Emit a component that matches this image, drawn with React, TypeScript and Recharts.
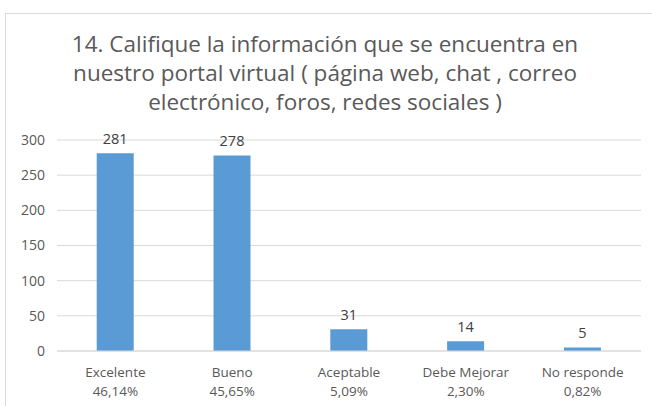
import React from "react";
import { BarChart, Bar, XAxis, YAxis, CartesianGrid, LabelList } from "recharts";

const categories = ["Excelente", "Bueno", "Aceptable", "Debe Mejorar", "No responde"];
const percents = ["46,14%", "45,65%", "5,09%", "2,30%", "0,82%"];
const counts = [281, 278, 31, 14, 5];
const yTicks = [0, 50, 100, 150, 200, 250, 300];
const titleLines = [
  "14. Califique la información que se encuentra en",
  "nuestro portal virtual ( página web, chat , correo",
  "electrónico, foros, redes sociales )",
];

const data = categories.map((c, i) => ({ name: c, pct: percents[i], value: counts[i] }));

const FONT = "'Open Sans', sans-serif";

const CategoryTick = ({ x, y, payload, index }: any) => {
  return (
    <text x={x} y={y} textAnchor="middle" fill="#595959" fontSize={13.5} fontFamily={FONT}>
      <tspan x={x} dy={18}>{payload.value}</tspan>
      <tspan x={x} dy={19}>{percents[index]}</tspan>
    </text>
  );
};

export default function App() {
  return (
    <div style={{ position: "fixed", left: 0, top: 0, width: 652, height: 406, background: "#fff", overflow: "hidden" }}>
      <div
        style={{
          position: "absolute",
          left: 5,
          top: 13,
          width: 700,
          height: 420,
          border: "1px solid #d9d9d9",
          boxSizing: "border-box",
        }}
      />
      <div
        style={{
          position: "absolute",
          left: 0,
          top: 29,
          width: 650,
          textAlign: "center",
          fontFamily: FONT,
          fontSize: 22.5,
          lineHeight: "29px",
          color: "#595959",
        }}
      >
        {titleLines.map((l) => (
          <div key={l}>{l}</div>
        ))}
      </div>
      <div style={{ position: "absolute", left: 0, top: 0 }}>
        <BarChart
          width={652}
          height={406}
          data={data}
          margin={{ top: 140, right: 11, left: 0, bottom: 5 }}
          barCategoryGap="34%"
        >
          <CartesianGrid vertical={false} stroke="#d9d9d9" />
          <XAxis
            dataKey="name"
            axisLine={{ stroke: "#d9d9d9" }}
            tickLine={false}
            height={50}
            interval={0}
            tick={<CategoryTick />}
          />
          <YAxis
            width={57}
            domain={[0, 300]}
            ticks={yTicks}
            axisLine={false}
            tickLine={false}
            tickMargin={6}
            tick={{ fill: "#595959", fontSize: 14, fontFamily: FONT }}
          />
          <Bar dataKey="value" fill="#5b9bd5" isAnimationActive={false}>
            <LabelList dataKey="value" position="top" offset={9} fill="#404040" fontSize={14.5} fontFamily={FONT} />
          </Bar>
        </BarChart>
      </div>
    </div>
  );
}
